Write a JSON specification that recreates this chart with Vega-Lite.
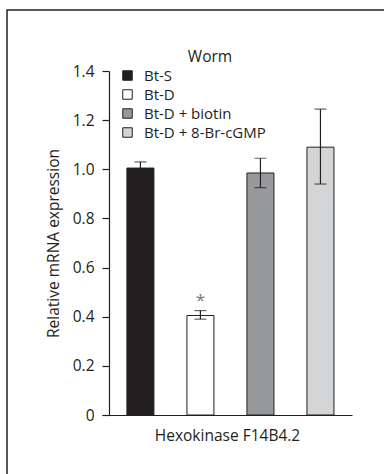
{
  "$schema": "https://vega.github.io/schema/vega-lite/v6.json",
  "autosize": {"type": "none"},
  "padding": {"left": 7, "top": 10, "right": 0, "bottom": 0},
  "width": 380,
  "height": 470,
  "background": "white",
  "title": {
    "text": "Worm",
    "anchor": "middle",
    "offset": -55,
    "dx": 13,
    "fontSize": 15.5,
    "fontWeight": "normal",
    "font": "Open Sans",
    "color": "#231f20"
  },
  "data": {
    "values": [
      {"group": "Bt-S", "mean": 1.005, "lo": 0.98, "hi": 1.03, "sig": ""},
      {"group": "Bt-D", "mean": 0.405, "lo": 0.39, "hi": 0.425, "sig": "*"},
      {"group": "Bt-D + biotin", "mean": 0.985, "lo": 0.925, "hi": 1.045, "sig": ""},
      {"group": "Bt-D + 8-Br-cGMP", "mean": 1.09, "lo": 0.94, "hi": 1.245, "sig": ""}
    ]
  },
  "encoding": {
    "x": {
      "field": "group",
      "type": "nominal",
      "sort": null,
      "scale": {
        "domain": ["Bt-S", "Bt-D", "Bt-D + biotin", "Bt-D + 8-Br-cGMP"],
        "range": [95, 345],
        "paddingInner": 0.55,
        "paddingOuter": 0.358,
        "align": 0.58
      },
      "axis": {
        "title": "Hexokinase F14B4.2",
        "labels": false,
        "ticks": false,
        "offset": -65,
        "titlePadding": 13
      }
    }
  },
  "layer": [
    {
      "mark": {"type": "bar", "stroke": "#231f20", "strokeWidth": 1},
      "encoding": {
        "y": {
          "field": "mean",
          "type": "quantitative",
          "scale": {"domain": [0, 1.4], "range": [405, 61], "nice": false, "zero": true},
          "axis": {
            "title": "Relative mRNA expression",
            "values": [0, 0.2, 0.4, 0.6, 0.8, 1.0, 1.2, 1.4],
            "labelExpr": "datum.value == 0 ? '0' : format(datum.value, '.1f')",
            "offset": -102,
            "grid": false,
            "tickSize": 7,
            "labelPadding": 8,
            "titlePadding": 11
          }
        },
        "fill": {
          "field": "group",
          "type": "nominal",
          "sort": null,
          "scale": {
            "domain": ["Bt-S", "Bt-D", "Bt-D + biotin", "Bt-D + 8-Br-cGMP"],
            "range": ["#231f20", "#ffffff", "#97999b", "#d3d5d6"]
          },
          "legend": {
            "title": null,
            "orient": "none",
            "legendX": 113,
            "legendY": 58,
            "symbolType": "square",
            "symbolSize": 90,
            "symbolStrokeColor": "#231f20",
            "symbolStrokeWidth": 1,
            "symbolOpacity": 1,
            "labelOffset": 9,
            "labelFontSize": 15,
            "rowPadding": 3,
            "padding": 0
          }
        }
      }
    },
    {
      "mark": {"type": "rule", "color": "#231f20", "strokeWidth": 1.2},
      "encoding": {
        "y": {"field": "lo", "type": "quantitative"},
        "y2": {"field": "hi"}
      }
    },
    {
      "mark": {"type": "tick", "color": "#231f20", "size": 12, "thickness": 1.2, "orient": "horizontal"},
      "encoding": {"y": {"field": "lo", "type": "quantitative"}}
    },
    {
      "mark": {"type": "tick", "color": "#231f20", "size": 12, "thickness": 1.2, "orient": "horizontal"},
      "encoding": {"y": {"field": "hi", "type": "quantitative"}}
    },
    {
      "transform": [{"filter": "datum.sig != ''"}],
      "mark": {"type": "text", "baseline": "bottom", "dy": -1, "fontSize": 17, "color": "#777777", "font": "Open Sans"},
      "encoding": {
        "y": {"field": "hi", "type": "quantitative"},
        "text": {"field": "sig"}
      }
    }
  ],
  "config": {
    "view": {"stroke": "#231f20", "strokeWidth": 1.5},
    "font": "Open Sans",
    "axis": {
      "domainColor": "#231f20",
      "domainWidth": 1.2,
      "tickColor": "#231f20",
      "tickWidth": 1.2,
      "labelColor": "#231f20",
      "labelFontSize": 15.5,
      "labelFont": "Open Sans",
      "titleColor": "#231f20",
      "titleFontSize": 15.5,
      "titleFontWeight": "normal",
      "titleFont": "Open Sans"
    },
    "legend": {
      "labelColor": "#231f20",
      "labelFont": "Open Sans"
    }
  }
}
